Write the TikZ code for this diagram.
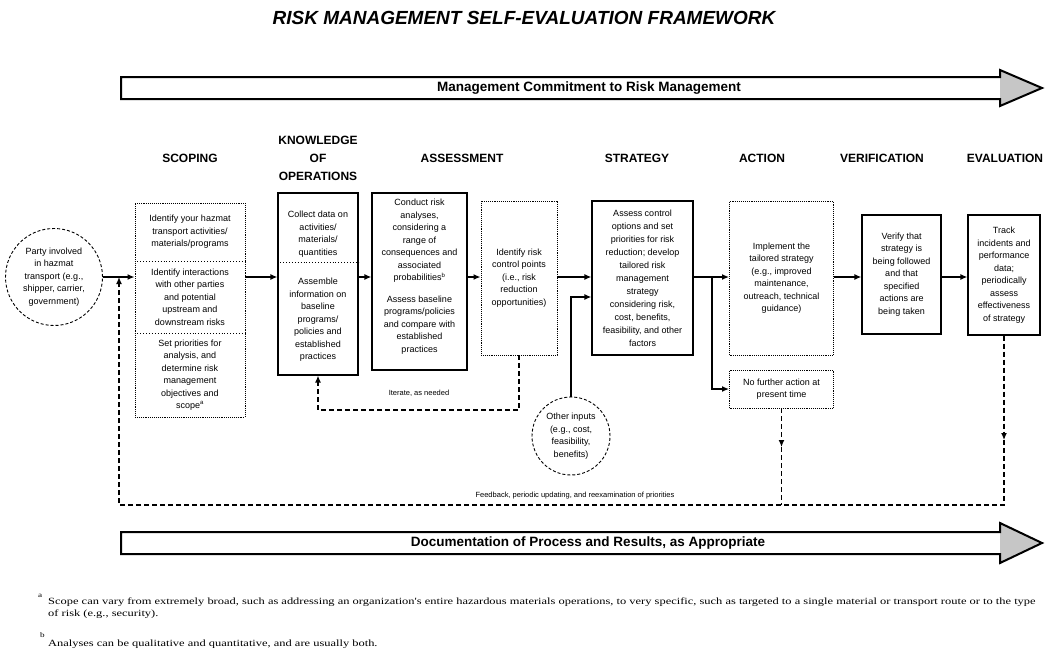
\documentclass[tikz,border=0pt]{standalone}
\usepackage{fontspec}
\setmainfont{Liberation Serif}
\setsansfont{Liberation Sans}
\newfontfamily\fnfont[FakeStretch=1.31]{Liberation Serif}
\usetikzlibrary{arrows.meta}
\newcommand\boxfont{\sffamily\fontsize{9}{12.5}\selectfont}
\tikzset{
  flow/.style={line width=1.7pt,-{Latex[length=7pt,width=6pt]}},
  fb/.style={line width=1.3pt,dash pattern=on 5pt off 3pt},
  fbtip/.style={fb,-{Latex[length=7pt,width=6pt]}},
  solidbox/.style={draw,line width=1.2pt,inner sep=2pt,align=center,font=\boxfont},
  dotbox/.style={draw,line width=0.9pt,densely dotted,inner sep=2pt,align=center,font=\boxfont},
  btext/.style={align=center,font=\boxfont,inner sep=0pt},
  sepline/.style={line width=0.9pt,dotted},
  hdr/.style={font=\sffamily\bfseries\fontsize{12}{18}\selectfont,align=center},
  bigarrow/.style={line width=2pt,line join=miter},
  circ/.style={circle,draw,line width=0.9pt,dash pattern=on 3pt off 2pt,align=center,font=\boxfont,inner sep=0pt},
  lbl/.style={font=\sffamily\fontsize{7.5}{9}\selectfont,inner sep=0pt},
  arrowtext/.style={font=\sffamily\bfseries\fontsize{13.5}{14}\selectfont,inner sep=0pt},
  fntext/.style={anchor=north west,inner sep=0pt,align=left,font=\fnfont\fontsize{9.5}{12}\selectfont},
  fnmark/.style={anchor=north west,inner sep=0pt,font=\fnfont\fontsize{7}{8}\selectfont},
}
\begin{document}
\begin{tikzpicture}[x=1pt,y=-1pt]
\useasboundingbox (0,0) rectangle (1046,661);
\fill[white] (0,0) rectangle (1046,661);

% title
\node[font=\sffamily\bfseries\itshape\fontsize{19}{21}\selectfont] (title) at (524,18) {RISK MANAGEMENT SELF-EVALUATION FRAMEWORK};

% top arrow
\fill[gray!45] (1000,70) -- (1042,88) -- (1000,106) -- cycle;
\draw[bigarrow] (121,77) -- (1000,77) -- (1000,70) -- (1042,88) -- (1000,106) -- (1000,99) -- (121,99) -- cycle;
\node[arrowtext] (mc) at (589,88) {Management Commitment to Risk Management};

% headers
\node[hdr] (hscope) at (190,158) {SCOPING};
\node[hdr] (hknow) at (318,158) {KNOWLEDGE\\OF\\OPERATIONS};
\node[hdr] (hassess) at (462,158) {ASSESSMENT};
\node[hdr] (hstrat) at (637,158) {STRATEGY};
\node[hdr] (haction) at (762,158) {ACTION};
\node[hdr] (hverif) at (882,158) {VERIFICATION};
\node[hdr] (heval) at (1005,158) {EVALUATION};

% coordinates
\coordinate (L) at (0,277);
\coordinate (s1) at (0,261);
\coordinate (s2) at (0,333);
\coordinate (k1) at (0,262);
\coordinate (oi) at (0,297);
\coordinate (it) at (0,410);
\coordinate (fbL) at (119,505);
\coordinate (am1) at (0,440);
\coordinate (am2) at (0,447);
\coordinate (br) at (712,277);

% party circle
\node[circ,minimum size=97pt] (party) at (54,277) {Party involved\\in hazmat\\transport (e.g.,\\shipper, carrier,\\government)};

% scoping
\node[dotbox,minimum width=110pt,minimum height=214pt] (scope) at (190,310) {};
\draw[sepline] (scope.west |- s1) -- (scope.east |- s1);
\draw[sepline] (scope.west |- s2) -- (scope.east |- s2);
\node[btext] (scopeA) at (190,232) {Identify your hazmat\\transport activities/\\materials/programs};
\node[btext] (scopeB) at (190,297) {Identify interactions\\with other parties\\and potential\\upstream and\\downstream risks};
\node[btext] (scopeC) at (190,375) {Set priorities for\\analysis, and\\determine risk\\management\\objectives and\\scope\textsuperscript{a}};

% knowledge
\node[solidbox,minimum width=80pt,minimum height=182pt] (know) at (318,284) {};
\draw[sepline] (know.west |- k1) -- (know.east |- k1);
\node[btext] (knowA) at (318,234) {Collect data on\\activities/\\materials/\\quantities};
\node[btext] (knowB) at (318,320) {Assemble\\information on\\baseline\\programs/\\policies and\\established\\practices};

% assessment
\node[solidbox,minimum width=95pt,minimum height=177pt] (asA) at (419.5,281.5) {};
\node[btext] (asA1) at (419.5,241) {Conduct risk\\analyses,\\considering a\\range of\\consequences and\\associated\\probabilities\textsuperscript{b}};
\node[btext] (asA2) at (419.5,325) {Assess baseline\\programs/policies\\and compare with\\established\\practices};
\node[dotbox,minimum width=76pt,minimum height=154pt] (asB) at (519,278) {Identify risk\\control points\\(i.e., risk\\reduction\\opportunities)};

% strategy
\node[solidbox,minimum width=101pt,minimum height=154pt,font=\sffamily\fontsize{9}{13}\selectfont] (strat) at (642.5,278) {Assess control\\options and set\\priorities for risk\\reduction; develop\\tailored risk\\management\\strategy\\considering risk,\\cost, benefits,\\feasibility, and other\\factors};
\node[circ,minimum size=78pt] (other) at (571,436) {Other inputs\\(e.g., cost,\\feasibility,\\benefits)};

% action
\node[dotbox,minimum width=104pt,minimum height=154pt] (action) at (781.5,278) {Implement the\\tailored strategy\\(e.g., improved\\maintenance,\\outreach, technical\\guidance)};
\node[dotbox,minimum width=104pt,minimum height=38pt] (nofur) at (781.5,389) {No further action at\\present time};

% verification, evaluation
\node[solidbox,minimum width=79pt,minimum height=119pt] (verif) at (901.5,274.5) {Verify that\\strategy is\\being followed\\and that\\specified\\actions are\\being taken};
\node[solidbox,minimum width=72pt,minimum height=120pt] (eval) at (1004,275) {Track\\incidents and\\performance\\data;\\periodically\\assess\\effectiveness\\of strategy};

% main flow
\draw[flow] (party.east |- L) -- (scope.west |- L);
\draw[flow] (scope.east |- L) -- (know.west |- L);
\draw[flow] (know.east |- L) -- (asA.west |- L);
\draw[flow] (asA.east |- L) -- (asB.west |- L);
\draw[flow] (asB.east |- L) -- (strat.west |- L);
\draw[flow] (strat.east |- L) -- (action.west |- L);
\draw[flow] (br) |- (nofur.west);
\draw[flow] (action.east |- L) -- (verif.west |- L);
\draw[flow] (verif.east |- L) -- (eval.west |- L);
\draw[flow] (other.north) |- (strat.west |- oi);

% iterate loop
\draw[fbtip] (asB.south) -- (asB.south |- it) -| (know.south);
\node[lbl] (iter) at (419,393) {Iterate, as needed};

% feedback loop
\draw[fbtip] (eval.south) -- (eval.south |- am1);
\draw[fbtip] (eval.south |- am1) -- (eval.south |- fbL) -- (fbL) -- (fbL |- L);
\draw[fbtip] (nofur.south) -- (nofur.south |- am2);
\draw[fb] (nofur.south |- am2) -- (nofur.south |- fbL);
\node[lbl] (fbtext) at (575,496) {Feedback, periodic updating, and reexamination of priorities};

% bottom arrow
\fill[gray!45] (1000,523) -- (1042,543) -- (1000,563) -- cycle;
\draw[bigarrow] (121,532) -- (1000,532) -- (1000,523) -- (1042,543) -- (1000,563) -- (1000,554) -- (121,554) -- cycle;
\node[arrowtext] (doc) at (588,543) {Documentation of Process and Results, as Appropriate};

% footnotes
\node[fnmark] (fnam) at (38,594) {a};
\node[fntext] (fna) at (48,598) {Scope can vary from extremely broad, such as addressing an organization's entire hazardous materials operations, to very specific, such as targeted to a single material or transport route or to the type\\of risk (e.g., security).};
\node[fnmark] (fnbm) at (40,632) {b};
\node[fntext] (fnb) at (48,640) {Analyses can be qualitative and quantitative, and are usually both.};
\end{tikzpicture}
\end{document}
